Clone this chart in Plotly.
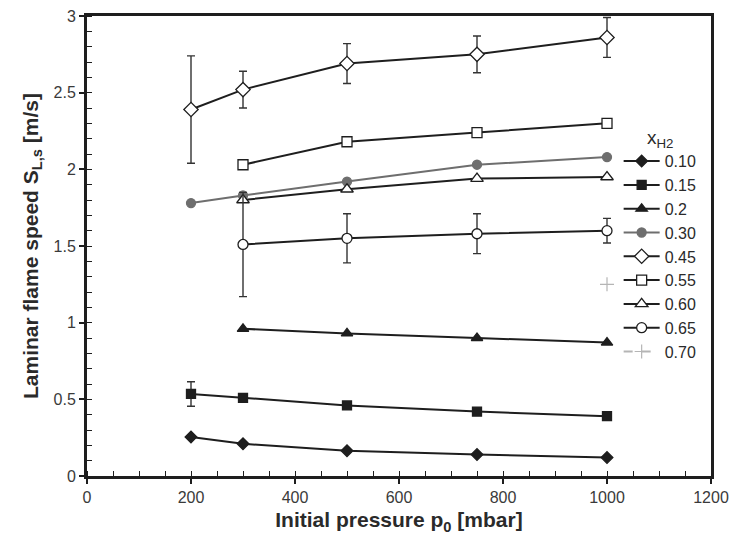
import plotly.graph_objects as go

p_a = [200, 300, 500, 750, 1000]
p_b = [300, 500, 750, 1000]

s_010 = [0.255, 0.21, 0.165, 0.14, 0.12]
s_015 = [0.535, 0.51, 0.46, 0.42, 0.39]
e_015 = [0.08, 0, 0, 0.02, 0.02]
s_020 = [0.96, 0.93, 0.90, 0.87]
s_030 = [1.78, 1.83, 1.92, 2.03, 2.08]
s_045 = [2.39, 2.52, 2.69, 2.75, 2.86]
e_045 = [0.35, 0.12, 0.13, 0.12, 0.13]
s_055 = [2.03, 2.18, 2.24, 2.30]
s_060 = [1.80, 1.87, 1.94, 1.95]
s_065 = [1.51, 1.55, 1.58, 1.60]
e_065 = [0.34, 0.16, 0.13, 0.08]
p_070 = [1000]
s_070 = [1.25]

labels = ["0.10", "0.15", "0.2", "0.30", "0.45", "0.55", "0.60", "0.65", "0.70"]

DARK = "#1e1e1e"
GRAY = "#6e6e6e"
FONT = "Liberation Sans, Arial"

fig = go.Figure()

def add(x, y, name, symbol, size, fill, lcolor=DARK, mline=DARK, err=None, dash=None, mlw=1.3):
    kw = {}
    if err is not None:
        kw["error_y"] = dict(type="data", array=err, visible=True, color="#333333",
                             thickness=1.4, width=4)
    fig.add_trace(go.Scatter(
        x=x, y=y, name=name, mode="lines+markers",
        line=dict(color=lcolor, width=2, dash=dash),
        marker=dict(symbol=symbol, size=size, color=fill,
                    line=dict(color=mline, width=mlw)),
        **kw))

add(p_a, s_010, labels[0], "diamond", 9, DARK)
add(p_a, s_015, labels[1], "square", 9, DARK, err=e_015)
add(p_b, s_020, labels[2], "triangle-up", 10, DARK)
add(p_a, s_030, labels[3], "circle", 9, GRAY, lcolor=GRAY, mline=GRAY)
add(p_a, s_045, labels[4], "diamond", 11, "white", err=e_045)
add(p_b, s_055, labels[5], "square", 10, "white")
add(p_b, s_060, labels[6], "triangle-up", 11, "white")
add(p_b, s_065, labels[7], "circle", 10, "white", err=e_065)
add(p_070, s_070, labels[8], "cross-thin", 10, "#b5b5b5", lcolor="#b5b5b5",
    mline="#b5b5b5", dash="dash", mlw=1.2)

axis_common = dict(
    showline=True, linecolor="#1e1e1e", linewidth=3, mirror=True,
    showgrid=False, zeroline=False, automargin=False,
    ticks="outside", ticklen=5, tickwidth=1.5, tickcolor="#1e1e1e",
    tickfont=dict(family=FONT, size=16, color="#3a3a3a"),
)

fig.update_xaxes(
    range=[0, 1200], dtick=200, tick0=0,
    minor=dict(dtick=50, ticks="inside", ticklen=5, tickwidth=1.3, tickcolor="#1e1e1e"),
    title=dict(text="<b>Initial pressure p<sub>0</sub> [mbar]</b>", standoff=8,
               font=dict(family=FONT, size=21, color="#2a2a2a")),
    **axis_common)
fig.update_yaxes(
    range=[0, 3], dtick=0.5, tick0=0,
    minor=dict(dtick=0.1, ticks="inside", ticklen=5, tickwidth=1.3, tickcolor="#1e1e1e"),
    title=dict(text="<b>Laminar flame speed S<sub>L,s</sub> [m/s]</b>", standoff=10,
               font=dict(family=FONT, size=21, color="#2a2a2a")),
    **axis_common)

fig.update_layout(
    width=730, height=544,
    margin=dict(l=87, r=19, t=16, b=68),
    plot_bgcolor="white", paper_bgcolor="white",
    showlegend=True,
    legend=dict(
        x=0.852, y=0.775, xanchor="left", yanchor="top",
        bgcolor="rgba(0,0,0,0)",
        title=dict(text="x<sub>H2</sub>", side="top center",
                   font=dict(family=FONT, size=19, color="#2a2a2a")),
        font=dict(family=FONT, size=16, color="#2a2a2a"),
        itemwidth=36, tracegroupgap=0,
    ),
)

fig.write_html("out.html")
